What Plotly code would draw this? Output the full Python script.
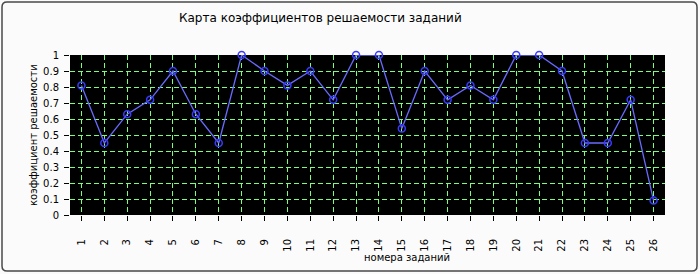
import plotly.graph_objects as go

tasks = list(range(1, 27))
tick_labels = [str(t) for t in tasks]
coef = [0.81, 0.45, 0.63, 0.72, 0.90, 0.63, 0.45, 1.00, 0.90, 0.81, 0.90, 0.72, 1.00,
        1.00, 0.54, 0.90, 0.72, 0.81, 0.72, 1.00, 1.00, 0.90, 0.45, 0.45, 0.72, 0.09]
y_ticks = [0, 0.1, 0.2, 0.3, 0.4, 0.5, 0.6, 0.7, 0.8, 0.9, 1]
y_tick_labels = ["0", "0.1", "0.2", "0.3", "0.4", "0.5", "0.6", "0.7", "0.8", "0.9", "1"]

W, H = 700, 274
L, R, T, B = 70, 35, 55, 59
pw, ph = W - L - R, H - T - B

def px(x):
    return (x - L) / pw

def py(y):
    return (H - B - y) / ph

FONT = "DejaVu Sans"
GRID = "#77ff77"

fig = go.Figure()
fig.add_trace(go.Scatter(
    x=tasks, y=coef, mode="lines+markers",
    line=dict(color="#6a6aff", width=1.3),
    marker=dict(symbol="circle-open", size=7, color="#3a3aff", line=dict(width=1.5)),
    showlegend=False, cliponaxis=False,
))

# outer rounded border
x0, x1, y0, y1 = px(2), px(697), py(2), py(271)
rx, ry = 5 / pw, 5 / ph
path = (f"M {x0+rx},{y0} L {x1-rx},{y0} Q {x1},{y0} {x1},{y0-ry} "
        f"L {x1},{y1+ry} Q {x1},{y1} {x1-rx},{y1} L {x0+rx},{y1} "
        f"Q {x0},{y1} {x0},{y1+ry} L {x0},{y0-ry} Q {x0},{y0} {x0+rx},{y0} Z")
fig.add_shape(type="path", path=path, xref="paper", yref="paper",
              line=dict(color="#4a4a4a", width=1.5), fillcolor="rgba(0,0,0,0)", layer="below")

fig.update_layout(
    width=W, height=H,
    margin=dict(l=L, r=R, t=T, b=B),
    paper_bgcolor="#fbfbfb", plot_bgcolor="#000000",
    font=dict(family=FONT, size=10, color="#000000"),
    xaxis=dict(
        range=[0.5, 26.5], tickmode="array", tickvals=tasks, ticktext=tick_labels,
        tickangle=-90, ticks="outside", ticklen=5, tickcolor="#000000",
        showgrid=True, gridcolor=GRID, griddash="5px,3px", gridwidth=1,
        zeroline=False, showline=False, ticklabelstandoff=14,
        tickfont=dict(family=FONT, size=10),
    ),
    yaxis=dict(
        range=[0, 1], tickmode="array", tickvals=y_ticks, ticktext=y_tick_labels,
        ticks="outside", ticklen=5, tickcolor="#000000",
        showgrid=True, gridcolor=GRID, griddash="5px,3px", gridwidth=1,
        zeroline=False, showline=False, ticklabelstandoff=3,
        tickfont=dict(family=FONT, size=10),
    ),
    annotations=[
        dict(text="Карта коэффициентов решаемости заданий", xref="paper", yref="paper",
             x=px(320), y=py(18), showarrow=False, xanchor="center", yanchor="middle",
             font=dict(family=FONT, size=12)),
        dict(text="коэффициент решаемости", xref="paper", yref="paper",
             x=px(33), y=py(135), showarrow=False, textangle=-90,
             xanchor="center", yanchor="middle", font=dict(family=FONT, size=10)),
        dict(text="номера заданий", xref="paper", yref="paper",
             x=px(407), y=py(257), showarrow=False,
             xanchor="center", yanchor="middle", font=dict(family=FONT, size=10)),
    ],
)

fig.write_html("out.html")
